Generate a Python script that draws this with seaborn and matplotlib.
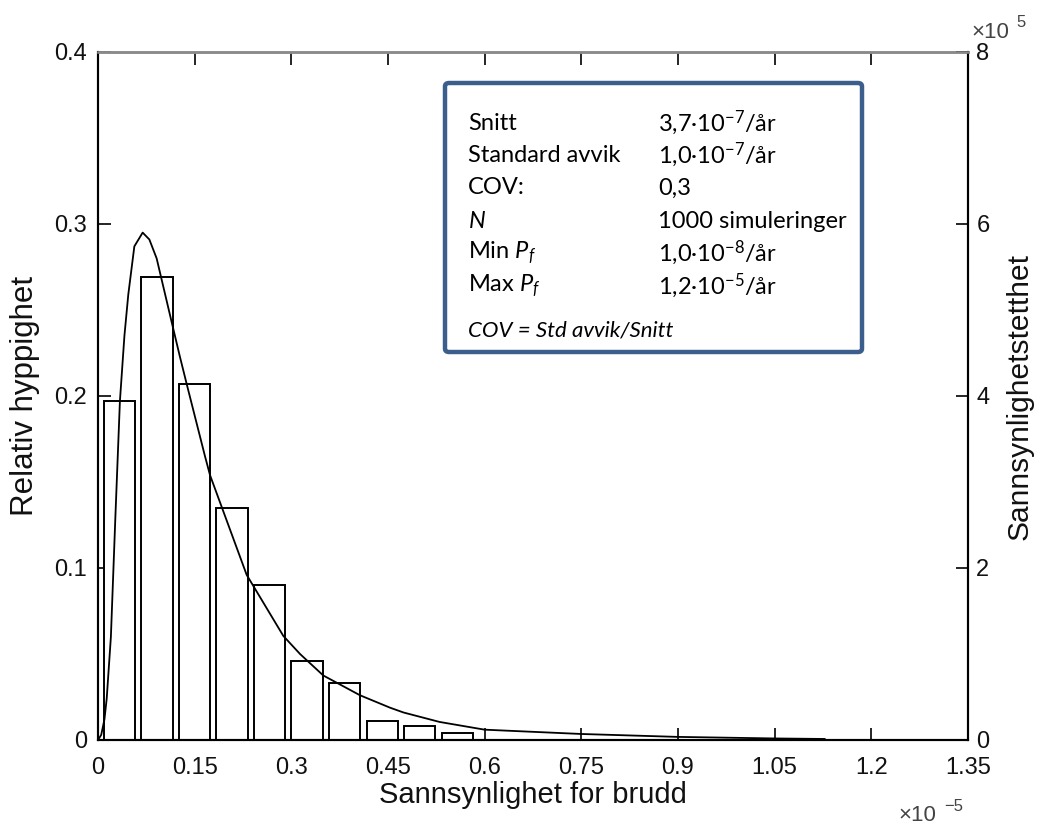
import matplotlib
matplotlib.use("Agg")
import matplotlib.pyplot as plt
import seaborn as sns
from matplotlib.patches import FancyBboxPatch

# ---------------- data (x in units of 1e-5) ----------------
bin_centers = [0.0334, 0.0916, 0.1498, 0.2080, 0.2662, 0.3244, 0.3826, 0.4408, 0.4990, 0.5572]
rel_freq = [0.197, 0.269, 0.207, 0.135, 0.090, 0.046, 0.033, 0.011, 0.008, 0.004]

curve_x = [0, 0.005, 0.010, 0.0135, 0.020, 0.027, 0.034, 0.041, 0.047, 0.0564, 0.0693,
           0.0797, 0.091, 0.1143, 0.127, 0.1376, 0.166, 0.1738, 0.2307, 0.2876, 0.3135,
           0.3496, 0.4066, 0.4531, 0.474, 0.53, 0.60, 0.75, 0.90, 1.05, 1.128]
# density in units of 1e5
curve_y = [0, 0.06, 0.24, 0.48, 1.20, 2.60, 3.94, 4.70, 5.18, 5.74, 5.90,
           5.82, 5.60, 4.86, 4.46, 4.14, 3.30, 3.08, 1.92, 1.21, 1.00,
           0.75, 0.52, 0.376, 0.32, 0.21, 0.12, 0.07, 0.036, 0.018, 0.012]

x_ticks = [0, 0.15, 0.3, 0.45, 0.6, 0.75, 0.9, 1.05, 1.2, 1.35]
x_ticklabels = ["0", "0.15", "0.3", "0.45", "0.6", "0.75", "0.9", "1.05", "1.2", "1.35"]
yl_ticks = [0, 0.1, 0.2, 0.3, 0.4]
yl_ticklabels = ["0", "0.1", "0.2", "0.3", "0.4"]
yr_ticks = [0, 2, 4, 6, 8]
yr_ticklabels = ["0", "2", "4", "6", "8"]

box_labels = ["Snitt", "Standard avvik", "COV:", "$N$", "Min $P_f$", "Max $P_f$"]
box_values = ["3,7·10$^{-7}$/år", "1,0·10$^{-7}$/år", "0,3", "1000 simuleringer",
              "1,0·10$^{-8}$/år", "1,2·10$^{-5}$/år"]
box_note = "COV = Std avvik/Snitt"

# ---------------- style ----------------
sns.set_theme(style="white")
plt.rcParams["font.family"] = ["Liberation Sans", "DejaVu Sans"]
plt.rcParams["mathtext.fontset"] = "custom"
plt.rcParams["mathtext.rm"] = "Lato"
plt.rcParams["mathtext.it"] = "Lato:italic"
plt.rcParams["mathtext.bf"] = "Lato:bold"

W, H = 1040, 825
fig = plt.figure(figsize=(10.4, 8.25), dpi=100)
fig.patch.set_facecolor("white")
ax = fig.add_axes([98 / W, 1 - 740 / H, (968 - 98) / W, (740 - 52) / H])

sns.barplot(x=bin_centers, y=rel_freq, native_scale=True, width=0.83,
            color="white", edgecolor="black", linewidth=1.4, saturation=1,
            errorbar=None, ax=ax)

TXT = "#111111"
ax.set_xlim(0, 1.35)
ax.set_ylim(0, 0.4)
ax.set_xticks(x_ticks)
ax.set_xticklabels(x_ticklabels)
ax.set_yticks(yl_ticks)
ax.set_yticklabels(yl_ticklabels)
ax.tick_params(axis="x", bottom=True, top=True, direction="in", length=9, width=1.2,
               labelsize=17, pad=12, colors="black", labelcolor=TXT)
ax.tick_params(axis="y", left=True, right=False, direction="in", length=9, width=1.2,
               labelsize=17, pad=8, colors="black", labelcolor=TXT)

ax2 = ax.twinx()
sns.lineplot(x=curve_x, y=curve_y, color="black", linewidth=1.3, ax=ax2)
ax2.set_ylim(0, 8)
ax2.set_xlim(0, 1.35)
ax2.set_yticks(yr_ticks)
ax2.set_yticklabels(yr_ticklabels)
ax2.tick_params(axis="y", right=True, left=False, direction="in", length=9, width=1.2,
                labelsize=17, pad=6, colors="black", labelcolor=TXT)

for a in (ax, ax2):
    for s in ("left", "right", "bottom"):
        a.spines[s].set_color("black")
        a.spines[s].set_linewidth(1.5)
    a.spines["top"].set_color("#8a8a8a")
    a.spines["top"].set_linewidth(1.8)

ax.set_xlabel("Sannsynlighet for brudd", fontsize=21, color=TXT)
ax.xaxis.set_label_coords(0.5, (740 - 781) / 688)
ax.set_ylabel("Relativ hyppighet", fontsize=22.5, color=TXT)
ax.yaxis.set_label_coords((40 - 98) / 870, 0.5)
ax2.set_ylabel("Sannsynlighetstetthet", fontsize=21.5, color=TXT)
ax2.yaxis.set_label_coords((1006 - 98) / 870, 0.5)

# exponent multipliers
GR = "#444444"
fig.text(898 / W, 1 - 821 / H, "×10", fontsize=16, color=GR, va="baseline", ha="left")
fig.text(944 / W, 1 - 811 / H, "−5", fontsize=12, color=GR, va="baseline", ha="left")
fig.text(971 / W, 1 - 38 / H, "×10", fontsize=16, color=GR, va="baseline", ha="left")
fig.text(1016 / W, 1 - 27 / H, "5", fontsize=12, color=GR, va="baseline", ha="left")

# info box
bx0, bx1, by0, by1 = 445, 862, 83, 352
box = FancyBboxPatch((bx0 / W, 1 - by1 / H), (bx1 - bx0) / W, (by1 - by0) / H,
                     boxstyle="round,pad=0,rounding_size=0.004",
                     transform=fig.transFigure, facecolor="white",
                     edgecolor="#3B5E8C", linewidth=3.2, zorder=5)
fig.add_artist(box)

row_y = [123, 155, 188, 221, 253, 286]
for lab, val, yy in zip(box_labels, box_values, row_y):
    fig.text(468 / W, 1 - yy / H, lab, fontsize=17, family="Lato", color="black",
             va="center", ha="left", zorder=6)
    fig.text(658 / W, 1 - yy / H, val, fontsize=17, family="Lato", color="black",
             va="center", ha="left", zorder=6)
fig.text(468 / W, 1 - 331 / H, box_note, fontsize=16, family="Lato", style="italic",
         color="black", va="center", ha="left", zorder=6)

fig.savefig("out.png", dpi=100)
